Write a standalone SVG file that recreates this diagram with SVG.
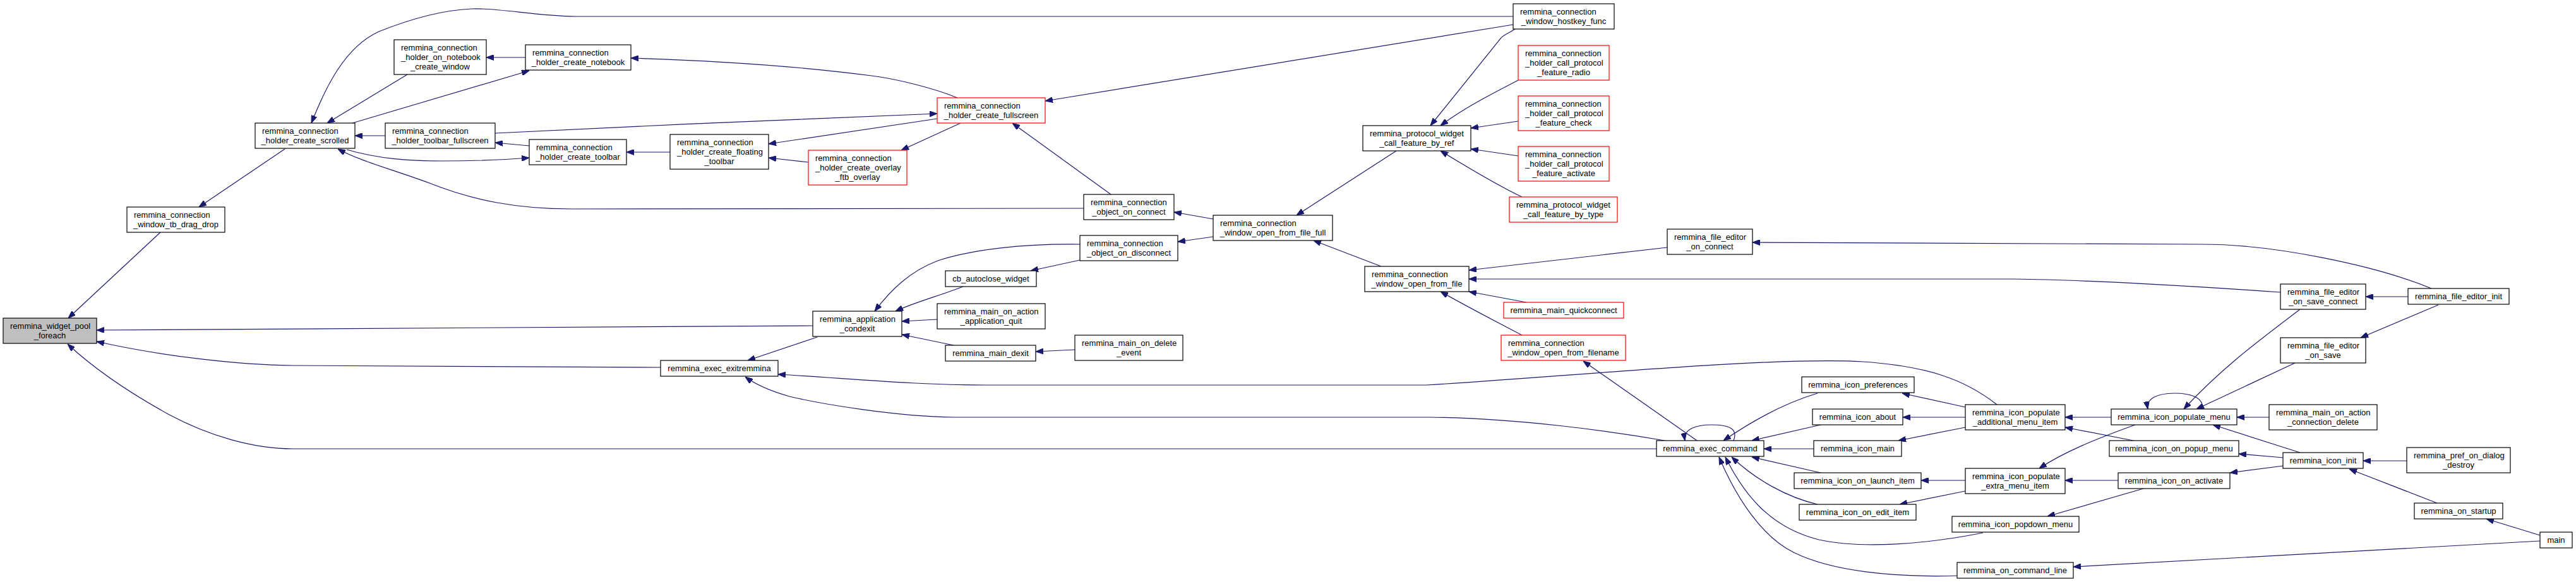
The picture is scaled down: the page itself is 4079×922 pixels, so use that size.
<svg xmlns="http://www.w3.org/2000/svg" width="4079" height="922" viewBox="0 0 4079 922">
<style>
.n rect{fill:#ffffff;stroke:#000000;stroke-width:1.2}
.r rect{fill:#ffffff;stroke:#ff0000;stroke-width:1.2}
.g rect{fill:#bfbfbf;stroke:#000000;stroke-width:1.2}
text{font-family:"Liberation Sans",Arial,Helvetica,sans-serif;font-size:13px;fill:#000000}
.m{text-anchor:middle}
#edges path{fill:none;stroke:#191970;stroke-width:1.2;marker-end:url(#a)}
</style>
<defs>
<marker id="a" markerWidth="12" markerHeight="9" refX="12" refY="4.5" orient="auto" markerUnits="userSpaceOnUse"><path d="M0,0 L12,4.5 L0,9 z" fill="#191970" stroke="#191970" stroke-width="1"/></marker>
</defs>
<rect width="4079" height="922" fill="#ffffff"/>
<g id="edges">
<path d="M254,368 L108,504"/>
<path d="M451,236 L315,328"/>
<path d="M2396,26 L912,26 C850,26 790,12 747,14 C700,16 650,30 600,50 C545,75 515,140 493,195"/>
<path d="M645,118 L518,195"/>
<path d="M558,195 L838,112"/>
<path d="M832,91 L770,91"/>
<path d="M610,215 L562,215"/>
<path d="M549,237 C600,252 650,255 700,255 C760,255 800,253 838,250"/>
<path d="M1716,330 L905,331 C820,331 750,318 680,290 C620,268 570,255 535,236"/>
<path d="M784,211 C1000,200 1300,187 1484,180"/>
<path d="M838,231 L784,226"/>
<path d="M1061,241 L992,241"/>
<path d="M1484,188 L1217,228"/>
<path d="M1280,257 L1217,250"/>
<path d="M1521,195 L1427,238"/>
<path d="M1516,155 C1480,140 1420,125 1380,120 C1250,103 1100,95 999,92"/>
<path d="M2396,39 L1655,160"/>
<path d="M1759,308 L1603,195"/>
<path d="M1921,347 L1859,336"/>
<path d="M1921,375 L1865,383"/>
<path d="M1710,387 C1620,386 1540,395 1485,413 C1440,430 1410,460 1385,493"/>
<path d="M1710,412 L1632,429"/>
<path d="M1525,454 C1490,468 1450,478 1418,493"/>
<path d="M1484,506 L1428,509"/>
<path d="M1510,547 L1428,530"/>
<path d="M1702,554 L1640,557"/>
<path d="M1287,516 L153,523"/>
<path d="M1294,534 L1184,571"/>
<path d="M1046,582 L464,579 C380,578 260,565 153,541"/>
<path d="M2623,711 L464,711 C400,711 330,690 268,657 C210,625 150,585 107,545"/>
<path d="M3162,641 C3110,600 3050,580 2950,573 C2800,565 2500,595 2259,610 L1560,610 C1450,610 1350,600 1232,593"/>
<path d="M2636,698 C2550,683 2400,662 2263,661 L1510,661 C1420,660 1300,640 1250,628 C1215,618 1195,608 1180,597"/>
<path d="M2211,239 L2053,341"/>
<path d="M2399,46 C2390,52 2380,56 2377,60 L2265,199"/>
<path d="M2404,127 C2360,150 2320,170 2281,199"/>
<path d="M2404,192 L2329,203"/>
<path d="M2404,247 L2329,236"/>
<path d="M2410,312 C2380,298 2340,275 2281,239"/>
<path d="M2187,422 L2080,381"/>
<path d="M2640,392 L2326,428"/>
<path d="M3611,463 C3500,455 3300,443 3189,442 L2326,442"/>
<path d="M2417,479 L2326,462"/>
<path d="M2410,531 C2380,515 2340,495 2281,462"/>
<path d="M2687,698 L2507,572"/>
<path d="M2745,698 C2752,680 2740,673 2710,673 C2685,673 2665,680 2668,698"/>
<path d="M2878,623 C2820,640 2770,670 2729,698"/>
<path d="M2883,673 L2774,698"/>
<path d="M2872,711 L2793,711"/>
<path d="M2883,749 L2774,724"/>
<path d="M2878,799 C2830,788 2780,760 2742,724"/>
<path d="M3140,844 C3050,862 2950,870 2880,855 C2800,835 2760,780 2732,724"/>
<path d="M3099,912 C3000,915 2900,905 2840,875 C2790,850 2750,790 2722,724"/>
<path d="M3112,645 L3012,623"/>
<path d="M3112,661 L3013,661"/>
<path d="M3112,677 L3006,698"/>
<path d="M3343,661 L3270,661"/>
<path d="M3378,698 L3270,677"/>
<path d="M3112,761 L3042,761"/>
<path d="M3112,778 L3008,799"/>
<path d="M3381,673 C3320,695 3270,715 3229,742"/>
<path d="M3354,761 L3270,761"/>
<path d="M3394,774 L3242,818"/>
<path d="M3487,648 C3490,630 3470,623 3443,623 C3415,623 3398,632 3401,648"/>
<path d="M3642,490 C3590,530 3520,580 3458,648"/>
<path d="M3634,575 L3478,648"/>
<path d="M3593,661 L3542,661"/>
<path d="M3642,717 L3504,673"/>
<path d="M3615,725 L3545,719"/>
<path d="M3615,738 L3531,749"/>
<path d="M3811,730 L3742,730"/>
<path d="M3859,797 L3720,743"/>
<path d="M4022,848 L3937,822"/>
<path d="M4022,857 L3283,898"/>
<path d="M3813,470 L3746,470"/>
<path d="M3861,483 L3738,535"/>
<path d="M3850,457 C3760,420 3600,387 3487,387 L2775,384"/>
</g>
<g id="n_pool" class="g"><rect x="5" y="504" width="148" height="40"/><text x="16" y="521">remmina_widget_pool</text><text class="m" x="79" y="536">_foreach</text></g>
<g id="n_tbdrag" class="n"><rect x="201" y="328" width="155" height="40"/><text x="212" y="345">remmina_connection</text><text class="m" x="278.5" y="360">_window_tb_drag_drop</text></g>
<g id="n_scrolled" class="n"><rect x="404" y="195" width="158" height="40"/><text x="415" y="212">remmina_connection</text><text class="m" x="483" y="227">_holder_create_scrolled</text></g>
<g id="n_nbwin" class="n"><rect x="624" y="63" width="146" height="55"/><text x="635" y="80">remmina_connection</text><text x="635" y="95">_holder_on_notebook</text><text class="m" x="697" y="110">_create_window</text></g>
<g id="n_tbfull" class="n"><rect x="610" y="195" width="174" height="40"/><text x="621" y="212">remmina_connection</text><text class="m" x="697" y="227">_holder_toolbar_fullscreen</text></g>
<g id="n_notebook" class="n"><rect x="832" y="71" width="167" height="40"/><text x="843" y="88">remmina_connection</text><text class="m" x="915.5" y="103">_holder_create_notebook</text></g>
<g id="n_toolbar" class="n"><rect x="838" y="221" width="154" height="40"/><text x="849" y="238">remmina_connection</text><text class="m" x="915" y="253">_holder_create_toolbar</text></g>
<g id="n_floating" class="n"><rect x="1061" y="213" width="156" height="55"/><text x="1072" y="230">remmina_connection</text><text x="1072" y="245">_holder_create_floating</text><text class="m" x="1139" y="260">_toolbar</text></g>
<g id="n_ftb" class="r"><rect x="1280" y="238" width="156" height="55"/><text x="1291" y="255">remmina_connection</text><text x="1291" y="270">_holder_create_overlay</text><text class="m" x="1358" y="285">_ftb_overlay</text></g>
<g id="n_fullscreen" class="r"><rect x="1484" y="155" width="171" height="40"/><text x="1495" y="172">remmina_connection</text><text class="m" x="1569.5" y="187">_holder_create_fullscreen</text></g>
<g id="n_objconn" class="n"><rect x="1716" y="308" width="143" height="40"/><text x="1727" y="325">remmina_connection</text><text class="m" x="1787.5" y="340">_object_on_connect</text></g>
<g id="n_objdisc" class="n"><rect x="1710" y="373" width="155" height="40"/><text x="1721" y="390">remmina_connection</text><text class="m" x="1787.5" y="405">_object_on_disconnect</text></g>
<g id="n_cbauto" class="n"><rect x="1497" y="429" width="144" height="25"/><text class="m" x="1569" y="446">cb_autoclose_widget</text></g>
<g id="n_openfull" class="n"><rect x="1921" y="341" width="189" height="40"/><text x="1932" y="358">remmina_connection</text><text class="m" x="2015.5" y="373">_window_open_from_file_full</text></g>
<g id="n_condexit" class="n"><rect x="1287" y="493" width="141" height="40"/><text x="1298" y="510">remmina_application</text><text class="m" x="1357.5" y="525">_condexit</text></g>
<g id="n_appquit" class="n"><rect x="1484" y="481" width="171" height="40"/><text x="1495" y="498">remmina_main_on_action</text><text class="m" x="1569.5" y="513">_application_quit</text></g>
<g id="n_dexit" class="n"><rect x="1497" y="547" width="143" height="25"/><text class="m" x="1568.5" y="564">remmina_main_dexit</text></g>
<g id="n_delev" class="n"><rect x="1702" y="531" width="171" height="40"/><text x="1713" y="548">remmina_main_on_delete</text><text class="m" x="1787.5" y="563">_event</text></g>
<g id="n_exitr" class="n"><rect x="1046" y="571" width="186" height="25"/><text class="m" x="1139" y="588">remmina_exec_exitremmina</text></g>
<g id="n_hostkey" class="n"><rect x="2396" y="6" width="160" height="40"/><text x="2407" y="23">remmina_connection</text><text class="m" x="2476" y="38">_window_hostkey_func</text></g>
<g id="n_byref" class="n"><rect x="2158" y="199" width="171" height="40"/><text x="2169" y="216">remmina_protocol_widget</text><text class="m" x="2243.5" y="231">_call_feature_by_ref</text></g>
<g id="n_radio" class="r"><rect x="2404" y="72" width="144" height="55"/><text x="2415" y="89">remmina_connection</text><text x="2415" y="104">_holder_call_protocol</text><text class="m" x="2476" y="119">_feature_radio</text></g>
<g id="n_check" class="r"><rect x="2404" y="152" width="144" height="55"/><text x="2415" y="169">remmina_connection</text><text x="2415" y="184">_holder_call_protocol</text><text class="m" x="2476" y="199">_feature_check</text></g>
<g id="n_activate" class="r"><rect x="2404" y="232" width="144" height="55"/><text x="2415" y="249">remmina_connection</text><text x="2415" y="264">_holder_call_protocol</text><text class="m" x="2476" y="279">_feature_activate</text></g>
<g id="n_bytype" class="r"><rect x="2390" y="312" width="171" height="40"/><text x="2401" y="329">remmina_protocol_widget</text><text class="m" x="2475.5" y="344">_call_feature_by_type</text></g>
<g id="n_openfile" class="n"><rect x="2161" y="422" width="165" height="40"/><text x="2172" y="439">remmina_connection</text><text class="m" x="2243.5" y="454">_window_open_from_file</text></g>
<g id="n_feconn" class="n"><rect x="2640" y="363" width="135" height="40"/><text x="2651" y="380">remmina_file_editor</text><text class="m" x="2707.5" y="395">_on_connect</text></g>
<g id="n_quick" class="r"><rect x="2381" y="479" width="190" height="25"/><text class="m" x="2476" y="496">remmina_main_quickconnect</text></g>
<g id="n_filename" class="r"><rect x="2377" y="531" width="197" height="40"/><text x="2388" y="548">remmina_connection</text><text class="m" x="2475.5" y="563">_window_open_from_filename</text></g>
<g id="n_exec" class="n"><rect x="2623" y="698" width="170" height="25"/><text class="m" x="2708" y="715">remmina_exec_command</text></g>
<g id="n_pref" class="n"><rect x="2853" y="597" width="178" height="25"/><text class="m" x="2942" y="614">remmina_icon_preferences</text></g>
<g id="n_about" class="n"><rect x="2870" y="648" width="143" height="25"/><text class="m" x="2941.5" y="665">remmina_icon_about</text></g>
<g id="n_imain" class="n"><rect x="2872" y="698" width="139" height="25"/><text class="m" x="2941.5" y="715">remmina_icon_main</text></g>
<g id="n_launch" class="n"><rect x="2841" y="749" width="201" height="25"/><text class="m" x="2941.5" y="766">remmina_icon_on_launch_item</text></g>
<g id="n_edit" class="n"><rect x="2849" y="799" width="185" height="25"/><text class="m" x="2941.5" y="816">remmina_icon_on_edit_item</text></g>
<g id="n_addl" class="n"><rect x="3112" y="641" width="158" height="40"/><text x="3123" y="658">remmina_icon_populate</text><text class="m" x="3191" y="673">_additional_menu_item</text></g>
<g id="n_extra" class="n"><rect x="3112" y="742" width="158" height="40"/><text x="3123" y="759">remmina_icon_populate</text><text class="m" x="3191" y="774">_extra_menu_item</text></g>
<g id="n_popdown" class="n"><rect x="3091" y="818" width="201" height="25"/><text class="m" x="3191.5" y="835">remmina_icon_popdown_menu</text></g>
<g id="n_cmdline" class="n"><rect x="3099" y="891" width="184" height="25"/><text class="m" x="3191" y="908">remmina_on_command_line</text></g>
<g id="n_popmenu" class="n"><rect x="3343" y="648" width="199" height="25"/><text class="m" x="3442.5" y="665">remmina_icon_populate_menu</text></g>
<g id="n_popup" class="n"><rect x="3340" y="698" width="205" height="25"/><text class="m" x="3442.5" y="715">remmina_icon_on_popup_menu</text></g>
<g id="n_onact" class="n"><rect x="3354" y="749" width="177" height="25"/><text class="m" x="3442.5" y="766">remmina_icon_on_activate</text></g>
<g id="n_savecon" class="n"><rect x="3611" y="450" width="135" height="40"/><text x="3622" y="467">remmina_file_editor</text><text class="m" x="3678.5" y="482">_on_save_connect</text></g>
<g id="n_feinit" class="n"><rect x="3813" y="457" width="160" height="25"/><text class="m" x="3893" y="474">remmina_file_editor_init</text></g>
<g id="n_save" class="n"><rect x="3611" y="535" width="135" height="40"/><text x="3622" y="552">remmina_file_editor</text><text class="m" x="3678.5" y="567">_on_save</text></g>
<g id="n_conndel" class="n"><rect x="3593" y="641" width="171" height="40"/><text x="3604" y="658">remmina_main_on_action</text><text class="m" x="3678.5" y="673">_connection_delete</text></g>
<g id="n_iinit" class="n"><rect x="3615" y="717" width="127" height="25"/><text class="m" x="3678.5" y="734">remmina_icon_init</text></g>
<g id="n_prefdes" class="n"><rect x="3811" y="709" width="164" height="40"/><text x="3822" y="726">remmina_pref_on_dialog</text><text class="m" x="3893" y="741">_destroy</text></g>
<g id="n_startup" class="n"><rect x="3823" y="797" width="140" height="25"/><text class="m" x="3893" y="814">remmina_on_startup</text></g>
<g id="n_main" class="n"><rect x="4022" y="843" width="51" height="25"/><text class="m" x="4047.5" y="860">main</text></g>
</svg>
